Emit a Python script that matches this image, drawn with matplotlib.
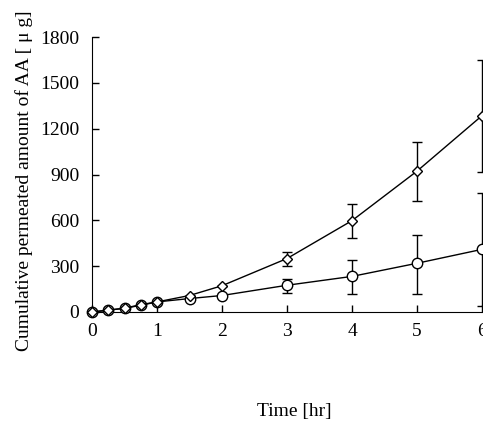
import numpy as np
import matplotlib
matplotlib.use('Agg')
import matplotlib.pyplot as plt

# data
time_hr = [0, 0.25, 0.5, 0.75, 1, 1.5, 2, 3, 4, 5, 6]
diamond_mean = [0, 12, 25, 48, 66, 108, 172, 350, 598, 922, 1285]
diamond_err_up = [0, 0, 0, 0, 0, 0, 0, 42, 107, 188, 365]
diamond_err_lo = [0, 0, 0, 0, 0, 0, 0, 50, 112, 193, 368]
circle_mean = [0, 12, 24, 44, 66, 88, 108, 175, 233, 319, 410]
circle_err_up = [0, 0, 0, 0, 0, 0, 0, 43, 109, 188, 367]
circle_err_lo = [0, 0, 0, 0, 0, 0, 0, 48, 113, 199, 368]
x_ticks = [0, 1, 2, 3, 4, 5, 6]
y_ticks = [0, 300, 600, 900, 1200, 1500, 1800]

plt.rcParams['font.family'] = ['Liberation Serif', 'DejaVu Serif']

fig = plt.figure(figsize=(4.83, 4.22), dpi=100)
ax = fig.add_axes([92 / 483, 110 / 422, 390 / 483, 275 / 422])

ax.errorbar(time_hr, circle_mean, yerr=[circle_err_lo, circle_err_up], fmt='-o',
            color='black', mfc='white', mec='black', ms=7.5, mew=1, lw=1,
            elinewidth=1, capsize=3.5, capthick=1, clip_on=False, zorder=3)
ax.errorbar(time_hr, diamond_mean, yerr=[diamond_err_lo, diamond_err_up], fmt='-D',
            color='black', mfc='white', mec='black', ms=5.5, mew=1, lw=1,
            elinewidth=1, capsize=3.5, capthick=1, clip_on=False, zorder=4)

ax.set_xlim(0, 6)
ax.set_ylim(0, 1800)
ax.set_xticks(x_ticks)
ax.set_yticks(y_ticks)
ax.spines['top'].set_visible(False)
ax.spines['right'].set_visible(False)
ax.tick_params(direction='in', length=5, width=1, labelsize=14, pad=8)
ax.tick_params(axis='y', pad=9)

ax.set_xlabel('Time [hr]', fontsize=14)
ax.xaxis.set_label_coords(0.52, -0.33)
ax.set_ylabel('Cumulative permeated amount of AA [ μ g]', fontsize=14)
ax.yaxis.set_label_coords(-0.152, 0.476)

plt.savefig('out.png', dpi=100)
